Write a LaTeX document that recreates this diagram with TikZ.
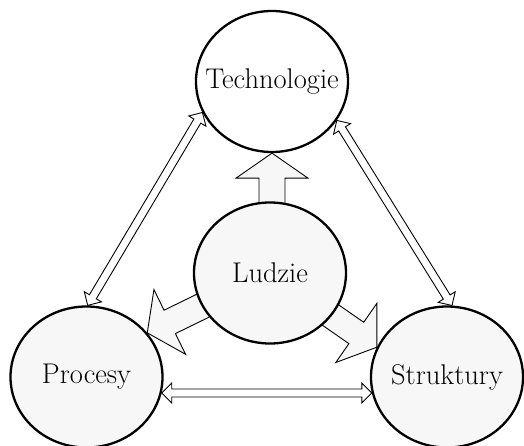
\documentclass[tikz,border=0pt]{standalone}
\usetikzlibrary{calc,shapes.geometric}
\pgfdeclarelayer{background}
\pgfsetlayers{background,main}
\tikzset{
  blob/.style={ellipse, draw, line width=2.3pt, minimum width=152pt,
    minimum height=141pt, inner sep=0pt, fill=black!3,
    font=\fontsize{28.5}{34}\selectfont},
  bigarrow/.style={draw, line width=0.9pt, fill=black!3, line join=miter},
  linkarrow/.style={draw, line width=0.9pt, fill=white, line join=miter},
}
% label of fixed zero width, so the ellipse keeps its set size
\newcommand\lbl[1]{\makebox[0pt]{#1}}
% wide block arrow from #1 to #2 (tip at #2)
\newcommand\blockarrow[2]{%
  \coordinate (ba-s) at (#1);
  \coordinate (ba-e) at (#2);
  \coordinate (ba-m) at ($(ba-e)!25pt!(ba-s)$);
  \draw[bigarrow] ($(ba-s)!13pt!90:(ba-e)$) -- ($(ba-m)!13pt!90:(ba-e)$)
    -- ($(ba-m)!36pt!90:(ba-e)$) -- (ba-e) -- ($(ba-m)!36pt!-90:(ba-e)$)
    -- ($(ba-m)!13pt!-90:(ba-e)$) -- ($(ba-s)!13pt!-90:(ba-e)$) -- cycle;}
% hollow two-headed link between #1 and #2
\newcommand\linkarrow[2]{%
  \coordinate (la-a) at (#1);
  \coordinate (la-b) at (#2);
  \coordinate (la-ma) at ($(la-a)!10pt!(la-b)$);
  \coordinate (la-mb) at ($(la-b)!10pt!(la-a)$);
  \draw[linkarrow] (la-a) -- ($(la-ma)!10pt!90:(la-b)$) -- ($(la-ma)!4pt!90:(la-b)$)
    -- ($(la-mb)!4pt!-90:(la-a)$) -- ($(la-mb)!10pt!-90:(la-a)$) -- (la-b)
    -- ($(la-mb)!10pt!90:(la-a)$) -- ($(la-mb)!4pt!90:(la-a)$)
    -- ($(la-ma)!4pt!-90:(la-b)$) -- ($(la-ma)!10pt!-90:(la-b)$) -- cycle;}
\begin{document}
\begin{tikzpicture}[x=1pt,y=-1pt]
\useasboundingbox (0,0) rectangle (524,446);
\node[blob, fill=white] (tech) at (272,81.5) {\lbl{Technologie}};
\node[blob] (ludzie) at (270,273) {\lbl{Ludzie}};
\node[blob] (proc) at (86.5,377) {\lbl{Procesy}};
\node[blob] (strk) at (447,377) {\lbl{Struktury}};
\begin{pgfonlayer}{background}
  \blockarrow{tech.south |- ludzie.center}{tech.south}
  \blockarrow{ludzie.center}{proc.36}
  \blockarrow{ludzie.center}{strk.157}
  \linkarrow{tech.204}{proc.89}
  \linkarrow{tech.329}{strk.86}
  \linkarrow{proc.-12}{strk.192}
\end{pgfonlayer}
\end{tikzpicture}
\end{document}
